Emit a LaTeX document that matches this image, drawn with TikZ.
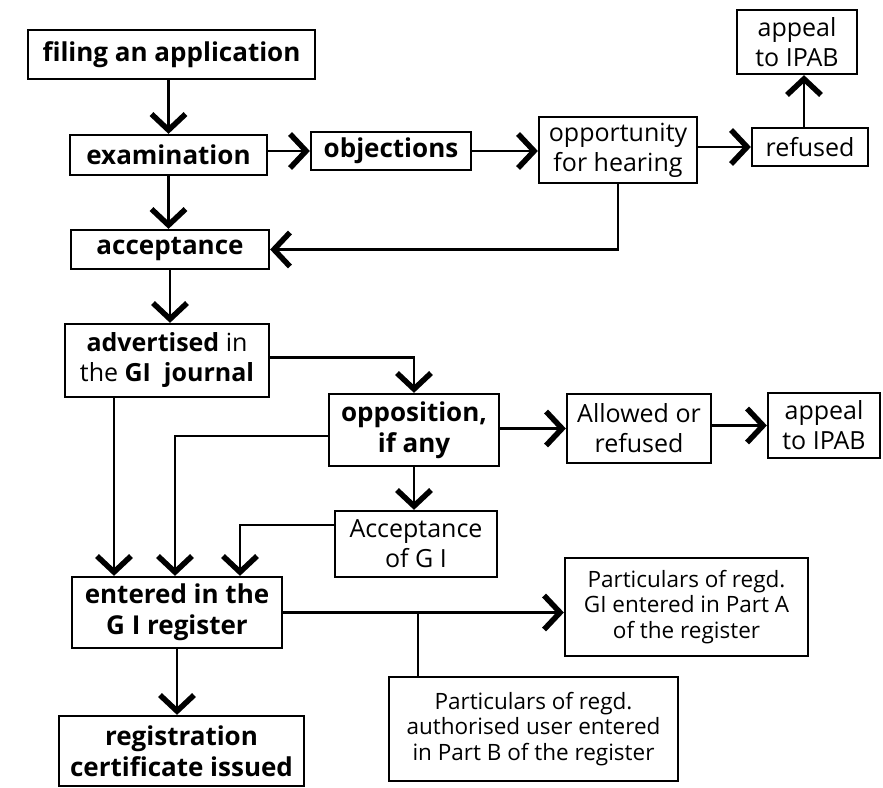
\documentclass[tikz,border=0pt]{standalone}
\usepackage{fontspec}
\setmainfont{Open Sans}
\usetikzlibrary{arrows.meta}
\begin{document}
\begin{tikzpicture}[x=1pt,y=-1pt,
  box/.style={draw, line width=2.3pt, align=center, inner sep=0pt, font=\fontsize{25}{30}\selectfont},
  bbox/.style={box, font=\fontsize{26}{31}\selectfont\bfseries},
  pbox/.style={box, font=\fontsize{22.5}{25.5}\selectfont},
  arr/.style={line width=2.8pt, -{Straight Barb[length=16pt,width=34pt,line width=5.5pt]}},
  conn/.style={line width=2.8pt}]
\useasboundingbox (0,0) rectangle (883,787);
\node[bbox, minimum width=287pt, minimum height=49pt] (filing) at (171.5,54.5) {filing an application};
\node[bbox, minimum width=197pt, minimum height=40pt] (exam) at (168.5,155) {examination};
\node[bbox, minimum width=160pt, minimum height=38pt] (obj) at (391,151) {objections};
\node[bbox, minimum width=198pt, minimum height=39pt] (acc) at (170,249.5) {acceptance};
\node[box, minimum width=158pt, minimum height=66pt] (opp) at (618,150) {opportunity\\for hearing};
\node[box, minimum width=116pt, minimum height=38pt] (ref) at (810,147) {refused};
\node[box, minimum width=120pt, minimum height=64pt] (appa) at (797,42) {appeal\\to IPAB};
\node[box, minimum width=204pt, minimum height=73pt] (adv) at (167,360.5) {\textbf{advertised} in\\the \textbf{GI\ \ journal}};
\node[bbox, minimum width=170pt, minimum height=72pt] (oppo) at (414,430) {opposition,\\if any};
\node[box, minimum width=144pt, minimum height=69pt] (allow) at (639,428.5) {Allowed or\\refused};
\node[box, minimum width=112pt, minimum height=65pt] (appb) at (824,425.5) {appeal\\to IPAB};
\node[box, minimum width=162pt, minimum height=66pt] (accgi) at (416,544) {Acceptance\\of G I};
\node[bbox, minimum width=210pt, minimum height=71pt] (ent) at (177,612.5) {entered in the\\G I register};
\node[pbox, minimum width=243pt, minimum height=98pt] (parta) at (686.5,607) {Particulars of regd.\\GI entered in Part A\\of the register};
\node[pbox, minimum width=289pt, minimum height=104pt] (partb) at (533.5,729) {Particulars of regd.\\authorised user entered\\in Part B of the register};
\node[bbox, minimum width=245pt, minimum height=70pt] (reg) at (181.5,751) {registration\\certificate issued};

\draw[arr] (filing.south -| exam.north) -- (exam.north);
\draw[arr] (exam.south) -- (exam.south |- acc.north);
\draw[arr] (exam.east |- obj.west) -- (obj.west);
\draw[arr] (obj.east) -- (obj.east -| opp.west);
\draw[arr] (opp.east |- ref.west) -- (ref.west);
\draw[arr] ([xshift=-6pt]ref.north) -- ([xshift=-6pt]ref.north |- appa.south);
\draw[arr] (opp.south) |- (acc.east);
\draw[arr] (acc.south) -- (acc.south |- adv.north);
\draw[arr] ([yshift=3pt]adv.east) -| (oppo.north);
\draw[arr] ([xshift=-53pt]adv.south) -- ([xshift=-53pt]adv.south |- ent.north);
\draw[arr] ([yshift=-6pt]oppo.west) -| ([xshift=-2pt]ent.north);
\draw[arr] ([yshift=19pt]accgi.west) -| ([xshift=63pt]ent.north);
\draw[arr] (oppo.south) -- (oppo.south |- accgi.north);
\draw[arr] (oppo.east |- allow.west) -- (allow.west);
\draw[arr] (allow.east |- appb.west) -- (appb.west);
\draw[arr] (ent.east) -- (ent.east -| parta.west);
\draw[conn] ([xshift=-115.5pt]partb.north) -- ([xshift=-115.5pt]partb.north |- ent.east);
\draw[arr] (ent.south) -- (ent.south |- reg.north);
\end{tikzpicture}
\end{document}
